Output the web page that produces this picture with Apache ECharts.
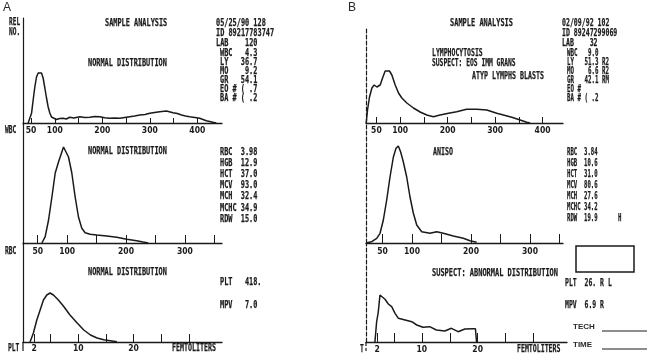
<!DOCTYPE html>
<html><head><meta charset="utf-8">
<script src="https://cdn.jsdelivr.net/npm/echarts@6/dist/echarts.min.js"></script>
<style>html,body{margin:0;padding:0;background:#fff}#c{width:650px;height:355px}</style>
</head><body><div id="c"></div>
<script>
// ---------- DATA ----------
// Panel A – WBC histogram (fL, relative number)
const wbcA_fl  = [43.8,51,54.4,57.9,61.4,64.9,68.4,72,75.4,79,82.5,86,89.5,93,96.5,103.5,110,117.5,124,131.6,140,152.6,163,173.7,184,194.7,205,215.8,226,236.8,247,257.9,268,279,290,300,310,321,335,349,358,366.7,375,384,395,405,419,433,440];
const wbcA_rel = [0,9.7,23,36,46,50,52,50,45,35,25,16,10,6,4.5,3.5,4.5,4.7,4,5.7,5,6.3,5.5,5.7,6.5,6.3,5.2,4.7,5,4.7,5.5,6.3,7,8,8.5,9.7,10.5,11.3,12,10.3,9.5,8,7,6.3,5.5,4.7,2.3,0.7,0];
// Panel A – RBC histogram
const rbcA_fl  = [57.1,62.7,68.4,74.1,79.7,85.3,91,93.8,96.6,102.3,107.9,113.6,119.2,124.9,130.5,139,150.3,167.3,184.2,201.2,218,229,237.8];
const rbcA_rel = [0,6.3,23,46,70,81,91,96,94.7,86,70,46,26,14.7,10.3,8.7,8,7,5.7,3.7,2.3,1,0];
// Panel A – PLT histogram
const pltA_fl  = [1.27,1.88,2.5,3.1,3.7,4.3,4.9,5.5,6.4,7.3,8.5,9.8,11,12.2,13.4,14.6,15.8,17];
const pltA_rel = [0,9,22,32,42,47,49,47,42,36,27,19,12,7,4,2.3,1.3,0.3];
// Panel B – WBC histogram
const wbcB_fl  = [28.4,31.2,35.4,40.4,45.3,50.9,57.9,63.6,68.4,77.5,82.5,89.5,96.5,103.5,114,128,142,156,170,184,201.8,219,240,261.4,282.5,303.5,317.5,335,352.6,366.7,373.7];
const wbcB_rel = [0,13,26,35,38,36,38,46,52,52,48,38,30,25,20,15,11,8,6.3,8,9.7,11.3,13.7,13.7,13,9.7,8,5.7,3,0.7,0];
// Panel B – RBC histogram
const rbcB_fl  = [23.2,31.7,40.2,45.8,51.4,57.1,62.7,68.4,72.9,76.8,80.8,85.3,91,96.6,102.2,108,116.4,130.5,141.9,153,170,187,198.3,209.7];
const rbcB_rel = [0.3,1.3,4.7,9.7,23,43,66,86,94.7,97,91,81,66,46,30,18,11.3,9.7,11.3,9.7,7,4.7,2.3,0.7];
// Panel B – PLT histogram
const pltB_fl  = [1.6,1.9,2.2,2.5,2.8,3.4,4,4.6,5.2,5.8,7,8.2,9.1,10.2,11.4,12.6,14.1,15.3,16.5,17.7,19.2,19.6,19.8];
const pltB_rel = [0,20,30,47,48.7,42.7,38,35.3,28.7,23.7,22,20.3,17,14.7,15.3,12,11,13.7,10.3,13,13.3,13.3,0];

// Axis ticks / labels
const wbcTicks = [50,100,150,200,250,300,350,400];
const wbcLabels = [50,100,200,300,400];
const rbcTicks = [50,100,150,200,250,300,350];
const rbcLabels = [50,100,200,300];
const pltTicks = [2,5,10,15,20,25,30];
const pltLabels = [2,10,20];

// Printout texts
const headA = ['05/25/90 128','ID 89217783747','LAB    120'];
const wbcParamsA = ['WBC   4.3','LY   36.7','MO    9.2','GR   54.1','EO # ( .7','BA # ( .2'];
const rbcParamsA = ['RBC  3.98','HGB  12.9','HCT  37.0','MCV  93.0','MCH  32.4','MCHC 34.9','RDW  15.0'];
const pltParamsA = ['PLT   418.','MPV   7.0'];
const headB = ['02/09/92 102','ID 89247299069','LAB    32'];
const wbcParamsB = ['WBC   9.0','LY   51.3 R2','MO    6.6 R2','GR   42.1 RM','EO #','BA # ( .2'];
const rbcParamsB = ['RBC  3.84','HGB  10.6','HCT  31.0','MCV  80.6','MCH  27.6','MCHC 34.2','RDW  19.9      H'];
const pltParamsB = ['PLT  26. R L','MPV  6.9 R'];
const flagsB = ['LYMPHOCYTOSIS','SUSPECT: EOS IMM GRANS','ATYP LYMPHS BLASTS'];

// ---------- CHART ----------
const INK = '#1a1a1a';
const MONO = '"DejaVu Sans Mono","Liberation Mono",monospace';
const NARROW = '"Liberation Sans Narrow","DejaVu Sans Condensed","DejaVu Sans Mono",monospace';
const pairs = (xs, ys) => xs.map((x, i) => [x, ys[i]]);
const chart = echarts.init(document.getElementById('c'), null, {renderer: 'canvas'});

const FS = 10;
const MONO_ADV = 0.602 * FS;
function txt(x, y, s, w) {
  return {type: 'text', x: x, y: y, scaleX: (w || 4.15) / MONO_ADV, silent: true, z: 100,
    style: {text: s, fill: INK, stroke: INK, lineWidth: 0.25, font: 'bold ' + FS + 'px ' + MONO, textAlign: 'left', align: 'left',
      textVerticalAlign: 'middle', verticalAlign: 'middle'}};
}
function block(x, y0, dy, lines, w) { return lines.map((s, i) => txt(x, y0 + i * dy, s, w)); }
function sans(x, y, s, size, weight) {
  return {type: 'text', x: x, y: y, silent: true, z: 100,
    style: {text: s, fill: '#2a2a2a', font: (weight || 'normal') + ' ' + size + 'px "Liberation Sans",Arial,sans-serif',
      textAlign: 'left', align: 'left', textVerticalAlign: 'middle', verticalAlign: 'middle'}};
}
function line(x1, y1, x2, y2, w, dash) {
  return {type: 'line', silent: true, z: 100, shape: {x1, y1, x2, y2},
    style: {stroke: INK, lineWidth: w || 1.2, lineDash: dash || null}};
}

const grids = [
  {left: 23, width: 199, top: 18, height: 105},   // A WBC
  {left: 23, width: 199, top: 123, height: 120},  // A RBC
  {left: 23, width: 199, top: 243, height: 99},   // A PLT
  {left: 366, width: 197, top: 28, height: 95},   // B WBC
  {left: 366, width: 197, top: 123, height: 120}, // B RBC
  {left: 366, width: 201, top: 243, height: 99}   // B PLT
];
const xr = [[33,452],[25,363],[0,36],[28,443],[22,356],[0,36]];
const tk = [wbcTicks, rbcTicks, pltTicks, wbcTicks, rbcTicks, pltTicks];
const lb = [wbcLabels, rbcLabels, pltLabels, wbcLabels, rbcLabels, pltLabels];
const tl = [5, 8, 8, 6, 9, 9];
const mg = [3, 4, 2, 3, 4, 3];
const series = [pairs(wbcA_fl, wbcA_rel), pairs(rbcA_fl, rbcA_rel), pairs(pltA_fl, pltA_rel),
                pairs(wbcB_fl, wbcB_rel), pairs(rbcB_fl, rbcB_rel), pairs(pltB_fl, pltB_rel)];

const option = {
  backgroundColor: '#ffffff',
  animation: false,
  grid: grids.map(g => Object.assign({containLabel: false}, g)),
  xAxis: grids.map((g, i) => ({
    type: 'value', gridIndex: i, min: xr[i][0], max: xr[i][1],
    axisLine: {show: true, onZero: false, lineStyle: {color: INK, width: 1.3}},
    axisTick: {show: true, inside: true, length: tl[i], customValues: tk[i], lineStyle: {color: INK, width: 1}},
    axisLabel: {show: true, customValues: lb[i], margin: mg[i], color: INK, fontSize: 8.5, fontWeight: 'bold', fontFamily: NARROW},
    splitLine: {show: false}
  })),
  yAxis: grids.map((g, i) => ({
    type: 'value', gridIndex: i, min: 0, max: g.height,
    axisLine: {show: true, onZero: false, lineStyle: {color: INK, width: 1.2, type: i >= 3 ? [4, 2] : 'solid'}},
    axisTick: {show: false}, axisLabel: {show: false}, splitLine: {show: false}
  })),
  series: series.map((d, i) => ({
    type: 'line', xAxisIndex: i, yAxisIndex: i, data: d, symbol: 'none', showSymbol: false,
    lineStyle: {color: INK, width: 1.5}, clip: true
  })),
  graphic: [].concat(
    [sans(3, 8, 'A', 12), sans(348, 8, 'B', 12)],
    [txt(9, 22, 'REL', 3.7), txt(9, 32, 'NO.', 3.7)],
    [txt(105, 23, 'SAMPLE ANALYSIS'), txt(88, 63, 'NORMAL DISTRIBUTION'),
     txt(88, 151, 'NORMAL DISTRIBUTION'), txt(88, 272, 'NORMAL DISTRIBUTION')],
    block(216, 23, 10, headA),
    block(220, 53, 9.1, wbcParamsA),
    block(220, 152, 11.2, rbcParamsA),
    [txt(220, 282, pltParamsA[0]), txt(220, 305, pltParamsA[1])],
    [txt(5, 130, 'WBC', 3.8), txt(5, 251, 'RBC', 3.8), txt(8, 348, 'PLT', 3.8), txt(172, 348, 'FEMTOLITERS', 4.0)],
    [line(23, 342, 23, 351, 1.2)],
    // Panel B
    [txt(450, 23, 'SAMPLE ANALYSIS', 4.2)],
    [txt(432, 53, flagsB[0], 3.9), txt(432, 63, flagsB[1], 3.8), txt(472, 76, flagsB[2], 4.0)],
    block(562, 23, 10, headB, 3.95),
    block(567, 53, 9.1, wbcParamsB, 3.5),
    [txt(433, 152, 'ANISO', 4.0)],
    block(567, 152, 11, rbcParamsB, 3.4),
    [txt(432, 273, 'SUSPECT: ABNORMAL DISTRIBUTION', 4.2)],
    [txt(565, 283, pltParamsB[0], 3.9), txt(565, 305, pltParamsB[1], 3.9)],
    [txt(360, 349, 'T', 3.8), txt(517, 349, 'FEMTOLITERS', 3.95)],
    [sans(573, 327, 'TECH', 8, 'bold'), sans(573, 345, 'TIME', 8, 'bold'),
     line(602, 331, 647, 331, 1), line(602, 349, 647, 349, 1)],
    [{type: 'rect', silent: true, z: 100, shape: {x: 576, y: 246, width: 58, height: 26},
      style: {stroke: INK, lineWidth: 1.5, fill: 'none'}}],
    [line(366, 342, 366, 351, 1.2, [4, 2])]
  )
};
chart.setOption(option);
</script></body></html>
